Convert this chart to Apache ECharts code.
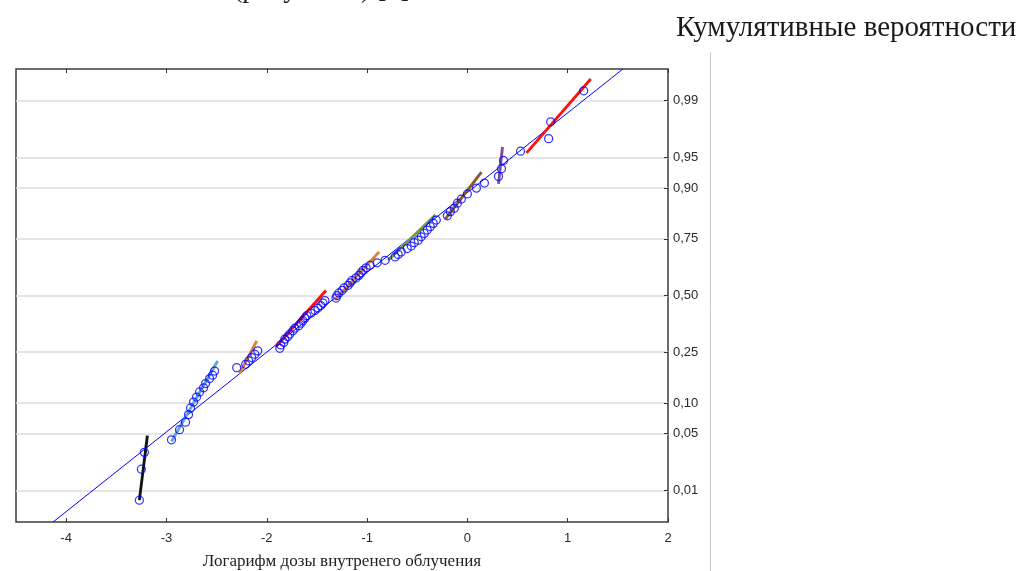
<!DOCTYPE html>
<html>
<head>
<meta charset="utf-8">
<script src="https://cdn.jsdelivr.net/npm/echarts@6/dist/echarts.min.js"></script>
<style>
  html, body { margin: 0; padding: 0; background: #ffffff; overflow: hidden; }
  #chart { width: 1023px; height: 571px; }
</style>
</head>
<body>
<div id="chart"></div>
<script>
// Axis ticks
const xTicks = [-4, -3, -2, -1, 0, 1, 2];
const probTicks = [0.01, 0.05, 0.10, 0.25, 0.50, 0.75, 0.90, 0.95, 0.99];
const probLabels = ['0,01', '0,05', '0,10', '0,25', '0,50', '0,75', '0,90', '0,95', '0,99'];

// Observations: log of internal dose and their normal scores (sorted)
const logDose = [
  -3.27, -3.25, -3.22,
  -2.95, -2.87, -2.81, -2.78, -2.76, -2.73, -2.70, -2.67, -2.63, -2.61, -2.57, -2.54, -2.52,
  -2.30, -2.21, -2.18, -2.15, -2.12, -2.09,
  -1.87, -1.86, -1.83, -1.82, -1.79, -1.77, -1.74, -1.72, -1.68, -1.66, -1.64, -1.62, -1.60,
  -1.56, -1.52, -1.49, -1.46, -1.44, -1.42,
  -1.31, -1.30, -1.28, -1.25, -1.23, -1.19, -1.17, -1.15, -1.11, -1.08, -1.06, -1.04, -1.01,
  -0.97, -0.90, -0.82,
  -0.72, -0.69, -0.66, -0.60, -0.56, -0.53, -0.49, -0.46, -0.43, -0.40, -0.37, -0.34, -0.31,
  -0.20, -0.17, -0.13, -0.10, -0.06, 0.00, 0.09, 0.17, 0.31, 0.34, 0.36, 0.53, 0.81, 0.83, 1.16
];
const normalScore = [
  -2.44, -2.07, -1.87,
  -1.72, -1.60, -1.51, -1.42, -1.34, -1.27, -1.21, -1.15, -1.10, -1.05, -0.99, -0.95, -0.90,
  -0.86, -0.82, -0.78, -0.74, -0.70, -0.66,
  -0.63, -0.59, -0.56, -0.52, -0.49, -0.46, -0.42, -0.39, -0.36, -0.33, -0.30, -0.27, -0.24,
  -0.21, -0.18, -0.15, -0.12, -0.09, -0.06,
  -0.03, 0.00, 0.03, 0.06, 0.09, 0.12, 0.15, 0.18, 0.21, 0.24, 0.27, 0.30, 0.33,
  0.36, 0.39, 0.42,
  0.46, 0.49, 0.52, 0.56, 0.59, 0.63, 0.66, 0.70, 0.74, 0.78, 0.82, 0.86, 0.90,
  0.95, 1.00, 1.04, 1.10, 1.15, 1.21, 1.28, 1.34, 1.42, 1.51, 1.61, 1.72, 1.87, 2.07, 2.44
];

// Overall fitted line
const fitLine = [[-4.13, -2.70], [1.55, 2.70]];

// Local fits of the separate groups
const segBlack     = [[-3.27, -2.44], [-3.19, -1.67]];
const segLightBlue = [[-2.95, -1.74], [-2.49, -0.78]];
const segOrange1   = [[-2.27, -0.93], [-2.10, -0.54]];
const segRed1      = [[-1.91, -0.61], [-1.41, 0.06]];
const segOrange2   = [[-1.32, -0.05], [-0.88, 0.52]];
const segGreen     = [[-0.79, 0.42], [-0.32, 0.96]];
const segBrown     = [[-0.22, 0.91], [0.14, 1.47]];
const segPurple    = [[0.31, 1.33], [0.35, 1.77]];
const segRed2      = [[0.59, 1.70], [1.23, 2.58]];

// Inverse of the standard normal CDF (Acklam's approximation)
function probit(p) {
  const a = [-3.969683028665376e+01, 2.209460984245205e+02, -2.759285104469687e+02,
             1.383577518672690e+02, -3.066479806614716e+01, 2.506628277459239e+00];
  const b = [-5.447609879822406e+01, 1.615858368580409e+02, -1.556989798598866e+02,
             6.680131188771972e+01, -1.328068155288572e+01];
  const c = [-7.784894002430293e-03, -3.223964580411365e-01, -2.400758277161838e+00,
             -2.549732539343734e+00, 4.374664141464968e+00, 2.938163982698783e+00];
  const d = [7.784695709041462e-03, 3.224671290700398e-01, 2.445134137142996e+00,
             3.754408661907416e+00];
  const pl = 0.02425, ph = 1 - pl;
  if (p < pl) {
    const q = Math.sqrt(-2 * Math.log(p));
    return (((((c[0]*q+c[1])*q+c[2])*q+c[3])*q+c[4])*q+c[5]) / ((((d[0]*q+d[1])*q+d[2])*q+d[3])*q+1);
  }
  if (p > ph) {
    const q = Math.sqrt(-2 * Math.log(1 - p));
    return -(((((c[0]*q+c[1])*q+c[2])*q+c[3])*q+c[4])*q+c[5]) / ((((d[0]*q+d[1])*q+d[2])*q+d[3])*q+1);
  }
  const q = p - 0.5, r = q * q;
  return (((((a[0]*r+a[1])*r+a[2])*r+a[3])*r+a[4])*r+a[5])*q / (((((b[0]*r+b[1])*r+b[2])*r+b[3])*r+b[4])*r+1);
}

const probTickZ = probTicks.map(probit);
const points = logDose.map((x, i) => [x, normalScore[i]]);

const segments = [
  { data: segBlack,     color: '#141414' },
  { data: segLightBlue, color: '#62a7d6' },
  { data: segOrange1,   color: '#de8332' },
  { data: segRed1,      color: '#ff1010' },
  { data: segOrange2,   color: '#de8332' },
  { data: segGreen,     color: '#6f9d3e' },
  { data: segBrown,     color: '#8a5a2c' },
  { data: segPurple,    color: '#7a4ea6' },
  { data: segRed2,      color: '#ff1010' }
];

const serif = '"Liberation Serif", "Times New Roman", serif';
const sans = '"Liberation Sans", Arial, sans-serif';

const chart = echarts.init(document.getElementById('chart'), null, { renderer: 'canvas' });

const tickStyle = { show: true, inside: true, length: 4, lineStyle: { color: '#333', width: 1 } };

chart.setOption({
  animation: false,
  backgroundColor: '#ffffff',
  grid: {
    left: 16, right: 355, top: 69, bottom: 49,
    outerBoundsMode: 'none', containLabel: false,
    show: true, borderColor: '#3c3c3c', borderWidth: 1.5, backgroundColor: 'transparent'
  },
  xAxis: [
    {
      type: 'value', position: 'bottom', min: -4.5, max: 2,
      axisLine: { show: false, onZero: false },
      axisTick: Object.assign({ customValues: xTicks }, tickStyle),
      axisLabel: { customValues: xTicks, margin: 10, color: '#2a2a2a',
                   fontFamily: sans, fontSize: 13 },
      splitLine: { show: false },
      name: 'Логарифм дозы внутренего облучения',
      nameLocation: 'middle', nameGap: 31,
      nameTextStyle: { fontFamily: serif, fontSize: 17, color: '#222' }
    },
    {
      type: 'value', position: 'top', min: -4.5, max: 2,
      axisLine: { show: false, onZero: false },
      axisTick: Object.assign({ customValues: xTicks }, tickStyle),
      axisLabel: { show: false },
      splitLine: { show: false }
    }
  ],
  yAxis: {
    type: 'value', position: 'right', min: -2.7, max: 2.7,
    axisLine: { show: false, onZero: false },
    axisTick: Object.assign({ customValues: probTickZ }, tickStyle),
    axisLabel: {
      customValues: probTickZ, margin: 5, color: '#2a2a2a',
      fontFamily: sans, fontSize: 13,
      formatter: function (v) {
        for (let i = 0; i < probTickZ.length; i++) {
          if (Math.abs(probTickZ[i] - v) < 1e-6) return probLabels[i];
        }
        return '';
      }
    },
    splitLine: { show: true, lineStyle: { color: '#dcdcdc', width: 1.5 } }
  },
  series: [
    {
      type: 'line', data: fitLine, symbol: 'none', z: 2,
      lineStyle: { color: '#0000ff', width: 1 }
    },
    ...segments.map(s => ({
      type: 'line', data: s.data, symbol: 'none', z: 3,
      lineStyle: { color: s.color, width: 2.9 }
    })),
    {
      type: 'scatter', data: points, symbol: 'circle', symbolSize: 8, z: 4,
      itemStyle: { color: 'rgba(0,0,0,0)', borderColor: '#0000ff', borderWidth: 1.25 }
    }
  ],
  graphic: [
    {
      type: 'text', left: 676, top: 14,
      style: { text: 'Кумулятивные вероятности', font: '29px ' + serif, fill: '#1a1a1a' }
    },
    {
      type: 'text', x: 233, y: -10,
      style: { text: '(рисунок 1) [5]', font: '28px ' + serif, fill: '#1a1a1a',
               verticalAlign: 'middle' }
    },
    {
      type: 'line', shape: { x1: 710.5, y1: 52, x2: 710.5, y2: 571 },
      style: { stroke: '#cccccc', lineWidth: 1 }
    }
  ]
});
</script>
</body>
</html>
